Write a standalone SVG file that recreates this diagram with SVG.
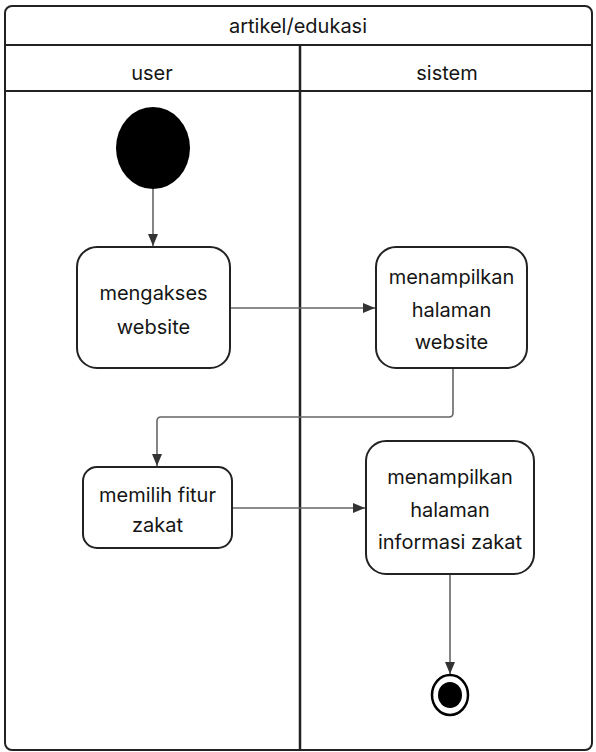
<svg xmlns="http://www.w3.org/2000/svg" width="596" height="752" viewBox="0 0 596 752">
  <style>
    .frame { fill: none; stroke: #222; stroke-width: 2; }
    .lane { stroke: #222; stroke-width: 2.5; }
    .act { fill: #fff; stroke: #222; stroke-width: 2; }
    .lbl { font-family: Inter, "Liberation Sans", sans-serif; font-size: 20px; fill: #151515; text-anchor: middle; }
    .edge { fill: none; stroke: #666; stroke-width: 1.6; }
  </style>
  <defs>
    <marker id="arrow" viewBox="0 0 12 12" refX="12" refY="6" markerWidth="12" markerHeight="12" markerUnits="userSpaceOnUse" orient="auto">
      <path d="M0,1 L12,6 L0,11 Z" fill="#333"/>
    </marker>
  </defs>
  <rect width="596" height="752" fill="#fff"/>

  <!-- swimlane frame -->
  <g id="swimlane">
    <rect class="frame" x="5" y="6" width="587" height="744" rx="7"/>
    <line class="frame" x1="5" y1="45" x2="592" y2="45"/>
    <line class="frame" x1="5" y1="91" x2="592" y2="91"/>
    <line class="lane" x1="300" y1="45" x2="300" y2="750"/>
    <text class="lbl" x="298" y="33">artikel/edukasi</text>
    <text class="lbl" x="152" y="80">user</text>
    <text class="lbl" x="447" y="80">sistem</text>
  </g>

  <!-- connectors -->
  <g id="connectors">
    <line class="edge" x1="153" y1="189" x2="153" y2="246" marker-end="url(#arrow)"/>
    <line class="edge" x1="230" y1="308" x2="375" y2="308" marker-end="url(#arrow)"/>
    <path class="edge" d="M453,368 V413 Q453,417 449,417 H161 Q157,417 157,421 V466" marker-end="url(#arrow)"/>
    <line class="edge" x1="232" y1="508" x2="365" y2="508" marker-end="url(#arrow)"/>
    <line class="edge" x1="450" y1="574" x2="450" y2="674" marker-end="url(#arrow)"/>
  </g>

  <g id="start">
    <ellipse cx="153" cy="148" rx="37" ry="41" fill="#000"/>
  </g>

  <g id="mengakses-website">
    <rect class="act" x="77" y="247" width="153" height="121" rx="20"/>
    <text class="lbl" x="153.5" y="300">mengakses</text>
    <text class="lbl" x="153.5" y="334">website</text>
  </g>

  <g id="menampilkan-halaman-website">
    <rect class="act" x="376" y="247" width="151" height="121" rx="20"/>
    <text class="lbl" x="451.5" y="284">menampilkan</text>
    <text class="lbl" x="451.5" y="317">halaman</text>
    <text class="lbl" x="451.5" y="349">website</text>
  </g>

  <g id="memilih-fitur-zakat">
    <rect class="act" x="83" y="467" width="149" height="81" rx="14"/>
    <text class="lbl" x="157.5" y="502">memilih fitur</text>
    <text class="lbl" x="157.5" y="532">zakat</text>
  </g>

  <g id="menampilkan-informasi-zakat">
    <rect class="act" x="366" y="441" width="168" height="133" rx="20"/>
    <text class="lbl" x="450" y="484">menampilkan</text>
    <text class="lbl" x="450" y="517">halaman</text>
    <text class="lbl" x="450" y="549">informasi zakat</text>
  </g>

  <g id="end">
    <ellipse cx="450" cy="695" rx="18" ry="20" fill="#fff" stroke="#000" stroke-width="2.5"/>
    <ellipse cx="450" cy="695" rx="12" ry="13" fill="#000"/>
  </g>
</svg>
